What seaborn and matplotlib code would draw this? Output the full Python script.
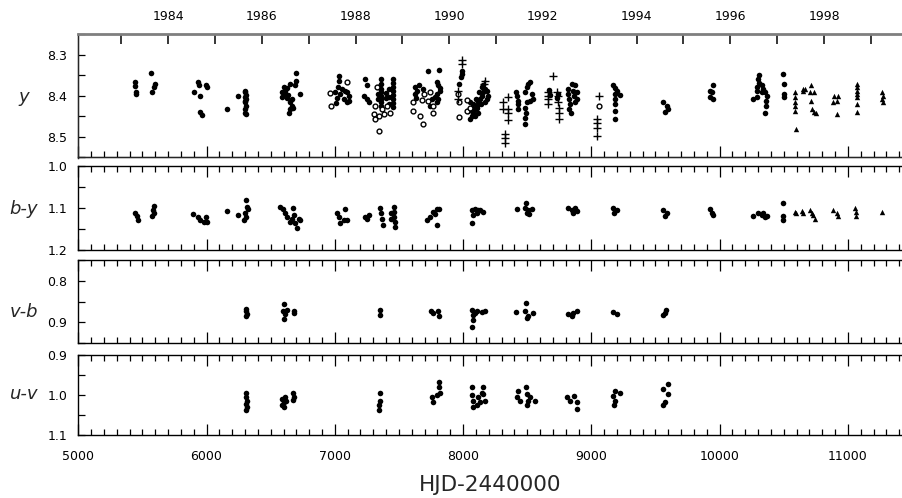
import numpy as np
import pandas as pd
import matplotlib
matplotlib.use("Agg")
import matplotlib.pyplot as plt
from matplotlib.ticker import MultipleLocator
import seaborn as sns

sns.set_style("white")
plt.rcParams["font.family"] = ["DejaVu Sans"]

# ---------------- y magnitude ----------------
y_dot_hjd = [5444, 5444, 5446, 5448, 5567, 5600, 5587, 5574,
             5930, 5938, 5998, 6003, 5904, 5946, 5946, 5964,
             6159, 6249, 6302, 6298, 6305, 6300, 6308, 6302, 6304, 6300, 6302, 6304, 6296,
             6697, 6699, 6691, 6652, 6626, 6600, 6588, 6613, 6588, 6626, 6665, 6730, 6652,
             6665, 6647, 6639, 6673, 6610, 6635,
             7034, 7029, 7021, 7055, 7003, 7042, 7094, 7107, 7016, 7068, 7107, 7011, 7094, 7080,
             7237, 7250, 7224, 7250, 7263,
             7362, 7362, 7362, 7362, 7362, 7362, 7362, 7362, 7338, 7338, 7338,
             7455, 7455, 7455, 7455, 7455, 7455, 7455, 7455, 7424, 7424, 7424, 7400, 7400,
             7723, 7816, 7627, 7640, 7627, 7653, 7691, 7796, 7808, 7821, 7796, 7782, 7756,
             7808, 7796, 7743, 7630, 7820,
             7990, 7990, 7983, 7972,
             8055, 8068, 8081, 8094, 8068, 8107, 8081, 8120, 8102, 8133, 8146, 8128, 8159,
             8172, 8146, 8159, 8185, 8198, 8185, 8172, 8120, 8094, 8042, 8055, 8110, 8140,
             8414, 8419, 8432, 8432, 8432, 8510, 8523, 8497, 8484, 8536, 8549, 8523, 8497,
             8484, 8492, 8484, 8484,
             8679, 8670, 8740, 8735,
             8847, 8874, 8821, 8860, 8886, 8821, 8866, 8829, 8886, 8834, 8829, 8842, 8874,
             9172, 9185, 9203, 9224, 9185, 9185, 9185, 9185, 9185,
             9557, 9588, 9601, 9575,
             9947, 9926, 9939, 9926, 9952,
             10308, 10302, 10308, 10290, 10290, 10328, 10341, 10328, 10354, 10263, 10290,
             10367, 10362, 10362, 10354,
             10497, 10503, 10503, 10503]
y_dot_mag = [8.366, 8.376, 8.391, 8.396, 8.345, 8.371, 8.379, 8.390,
             8.367, 8.374, 8.375, 8.379, 8.392, 8.400, 8.439, 8.447,
             8.433, 8.401, 8.388, 8.392, 8.398, 8.404, 8.408, 8.412, 8.425, 8.433, 8.441, 8.445, 8.415,
             8.344, 8.363, 8.374, 8.371, 8.382, 8.379, 8.392, 8.396, 8.404, 8.406, 8.408, 8.396, 8.416,
             8.425, 8.433, 8.443, 8.429, 8.388, 8.398,
             8.352, 8.363, 8.379, 8.383, 8.392, 8.396, 8.392, 8.401, 8.406, 8.408, 8.412, 8.418, 8.415, 8.388,
             8.359, 8.374, 8.400, 8.408, 8.416,
             8.359, 8.371, 8.383, 8.391, 8.401, 8.408, 8.415, 8.425, 8.379, 8.396, 8.408,
             8.359, 8.369, 8.379, 8.388, 8.398, 8.408, 8.418, 8.428, 8.384, 8.403, 8.420, 8.393, 8.406,
             8.341, 8.337, 8.379, 8.388, 8.396, 8.375, 8.383, 8.367, 8.375, 8.388, 8.396, 8.404, 8.408,
             8.408, 8.416, 8.425, 8.405, 8.380,
             8.339, 8.347, 8.355, 8.371,
             8.457, 8.449, 8.441, 8.433, 8.433, 8.425, 8.420, 8.416, 8.408, 8.408, 8.400, 8.392, 8.392,
             8.383, 8.379, 8.374, 8.388, 8.400, 8.408, 8.416, 8.441, 8.449, 8.437, 8.416, 8.430, 8.420,
             8.392, 8.400, 8.412, 8.420, 8.433, 8.371, 8.367, 8.379, 8.392, 8.396, 8.408, 8.412, 8.416,
             8.429, 8.441, 8.453, 8.469,
             8.397, 8.385, 8.395, 8.405,
             8.371, 8.375, 8.383, 8.388, 8.392, 8.396, 8.400, 8.408, 8.408, 8.420, 8.433, 8.441, 8.416,
             8.374, 8.382, 8.388, 8.397, 8.396, 8.408, 8.420, 8.437, 8.456,
             8.416, 8.425, 8.431, 8.439,
             8.374, 8.388, 8.392, 8.404, 8.408,
             8.349, 8.359, 8.369, 8.379, 8.388, 8.375, 8.383, 8.392, 8.392, 8.408, 8.404,
             8.400, 8.412, 8.425, 8.441,
             8.347, 8.371, 8.396, 8.404]

y_open_hjd = [6964, 6972, 7094, 7328, 7315, 7307, 7315, 7341, 7341, 7367, 7406, 7432, 7380,
              7613, 7613, 7666, 7686, 7679, 7743, 7730, 7769, 7769, 7699,
              7964, 7972, 7972, 8030, 8030, 8055, 9063]
y_open_mag = [8.393, 8.425, 8.366, 8.379, 8.425, 8.445, 8.457, 8.449, 8.486, 8.433, 8.425, 8.441, 8.445,
              8.416, 8.437, 8.449, 8.468, 8.410, 8.392, 8.412, 8.425, 8.441, 8.396,
              8.396, 8.416, 8.452, 8.410, 8.437, 8.429, 8.425]

y_plus_hjd = [7990, 7990, 7964, 7964, 8172, 8160,
              8315, 8310, 8354, 8354, 8354, 8354, 8328, 8328, 8328,
              8699, 8665, 8665, 8665, 8665, 8730, 8738, 8738, 8745, 8745, 8745,
              9063, 9042, 9042, 9042, 9042]
y_plus_mag = [8.314, 8.322, 8.388, 8.408, 8.363, 8.372,
              8.415, 8.433, 8.404, 8.433, 8.441, 8.460, 8.494, 8.502, 8.515,
              8.351, 8.392, 8.400, 8.408, 8.420, 8.392, 8.401, 8.416, 8.429, 8.441, 8.457,
              8.400, 8.457, 8.465, 8.478, 8.497]

y_tri_hjd = [10589, 10589, 10589, 10589, 10589, 10594, 10648, 10648, 10666,
             10713, 10705, 10736, 10713, 10718, 10736, 10752,
             10892, 10926, 10881, 10912, 10918,
             11069, 11069, 11069, 11069, 11069, 11074, 11074,
             11264, 11272, 11264, 11272]
y_tri_mag = [8.392, 8.404, 8.415, 8.425, 8.437, 8.480, 8.383, 8.388, 8.383,
             8.374, 8.392, 8.392, 8.412, 8.433, 8.439, 8.441,
             8.401, 8.400, 8.416, 8.412, 8.445,
             8.371, 8.379, 8.388, 8.396, 8.404, 8.420, 8.439,
             8.392, 8.400, 8.408, 8.416]

# ---------------- b-y colour ----------------
by_dot_hjd = [5444, 5457, 5462, 5587, 5582, 5592, 5574,
              5898, 5930, 5951, 5977, 5998, 6003,
              6159, 6249, 6309, 6315, 6320, 6302, 6309, 6294,
              6574, 6595, 6613, 6631, 6652, 6673, 6678, 6691, 6704, 6717, 6730, 6665,
              7016, 7029, 7037, 7068, 7081, 7094,
              7237, 7250, 7263,
              7354, 7359, 7367, 7374, 7458, 7458, 7463, 7466, 7471, 7437, 7437,
              7717, 7743, 7764, 7796, 7816, 7796, 7780,
              8068, 8094, 8133, 8159, 8081, 8068, 8107, 8120,
              8419, 8492, 8484, 8510, 8536, 8517, 8497,
              8821, 8847, 8874, 8855, 8886,
              9172, 9198, 9177,
              9562, 9588, 9575,
              9926, 9939, 9952,
              10263, 10302, 10328, 10354, 10341, 10367,
              10497, 10497, 10497]
by_dot_mag = [1.111, 1.119, 1.129, 1.095, 1.105, 1.113, 1.119,
              1.114, 1.122, 1.129, 1.133, 1.122, 1.133,
              1.106, 1.117, 1.081, 1.097, 1.103, 1.111, 1.121, 1.129,
              1.097, 1.103, 1.113, 1.121, 1.133, 1.101, 1.117, 1.136, 1.148, 1.127, 1.129, 1.125,
              1.113, 1.121, 1.136, 1.129, 1.103, 1.129,
              1.121, 1.127, 1.117,
              1.101, 1.113, 1.127, 1.140, 1.097, 1.109, 1.121, 1.133, 1.145, 1.113, 1.127,
              1.129, 1.121, 1.109, 1.103, 1.103, 1.140, 1.115,
              1.105, 1.103, 1.105, 1.109, 1.117, 1.136, 1.111, 1.104,
              1.103, 1.087, 1.101, 1.105, 1.103, 1.114, 1.113,
              1.101, 1.105, 1.101, 1.111, 1.106,
              1.101, 1.105, 1.111,
              1.105, 1.111, 1.119,
              1.103, 1.111, 1.117,
              1.119, 1.111, 1.117, 1.122, 1.113, 1.119,
              1.087, 1.119, 1.129]

by_tri_hjd = [10589, 10594, 10640, 10653, 10705, 10718, 10744, 10730,
              10887, 10912, 10926, 11059, 11067, 11067, 11264]
by_tri_mag = [1.109, 1.112, 1.106, 1.111, 1.105, 1.113, 1.125, 1.117,
              1.105, 1.113, 1.119, 1.101, 1.109, 1.119, 1.109]

# ---------------- v-b colour ----------------
vb_hjd = [6309, 6309, 6315, 6309,
          6605, 6595, 6613, 6605, 6631, 6678, 6678,
          7354, 7354,
          7748, 7769, 7808, 7816,
          8068, 8081, 8107, 8146, 8172, 8076, 8068, 8090,
          8414, 8492, 8484, 8510, 8549, 8502,
          8821, 8860, 8886, 8847,
          9172, 9198,
          9583, 9562, 9575]
vb_mag = [0.868, 0.874, 0.880, 0.884,
          0.857, 0.874, 0.880, 0.893, 0.870, 0.872, 0.877,
          0.870, 0.882,
          0.874, 0.878, 0.874, 0.884,
          0.870, 0.882, 0.874, 0.876, 0.874, 0.894, 0.911, 0.878,
          0.876, 0.853, 0.874, 0.884, 0.878, 0.890,
          0.880, 0.878, 0.874, 0.884,
          0.876, 0.880,
          0.870, 0.882, 0.877]

# ---------------- u-v colour ----------------
uv_hjd = [6309, 6309, 6315, 6309, 6315, 6309,
          6588, 6600, 6588, 6613, 6600, 6620,
          6673, 6678, 6673,
          7354, 7349, 7341, 7341,
          7756, 7764, 7816, 7816, 7820, 7796,
          8068, 8068, 8081, 8081, 8120, 8159, 8159, 8172, 8133, 8146, 8107,
          8419, 8445, 8432, 8492, 8497, 8510, 8523, 8562, 8497,
          8808, 8834, 8866, 8886, 8891,
          9185, 9224, 9172, 9185, 9177,
          9601, 9562, 9601, 9575, 9557]
uv_mag = [0.994, 1.006, 1.014, 1.022, 1.030, 1.038,
          1.010, 1.018, 1.026, 1.006, 1.030, 1.014,
          0.994, 1.006, 1.012,
          0.994, 1.014, 1.026, 1.038,
          1.006, 1.018, 0.968, 0.981, 0.994, 1.000,
          0.979, 1.000, 1.014, 1.030, 1.006, 0.981, 0.998, 1.014, 1.018, 0.994, 1.026,
          1.006, 1.014, 0.990, 0.981, 0.998, 1.014, 1.006, 1.016, 1.026,
          1.006, 1.014, 1.002, 1.018, 1.034,
          0.990, 0.994, 1.002, 1.014, 1.026,
          0.973, 0.985, 0.998, 1.018, 1.024]

panel_names = ["y", "b-y", "v-b", "u-v"]
panel_limits = [(8.55, 8.25), (1.2, 1.0), (0.95, 0.75), (1.1, 0.9)]
panel_ticks = [[8.3, 8.4, 8.5], [1.0, 1.1, 1.2], [0.8, 0.9], [0.9, 1.0, 1.1]]
hjd_ticks = [5000, 6000, 7000, 8000, 9000, 10000, 11000]
years = list(range(1983, 2000))

W, H = 903, 498
fig = plt.figure(figsize=(W / 100, H / 100), dpi=100)

# panel boxes in pixels: (top, bottom)
boxes = [(34, 157.5), (166, 250), (260, 343), (355, 435)]
label_y = [96.5, 209, 312, 394]
left_px = 78.3
XLIM = (5000, 11430)
axes = []
for top, bot in boxes:
    ax = fig.add_axes([left_px / W, 1 - bot / H, 1 - left_px / W, (bot - top) / H])
    axes.append(ax)

dot = dict(color="black", marker="o", s=16, linewidth=0, legend=False)
opn = dict(facecolor="white", edgecolor="black", marker="o", s=12, linewidth=1.0, legend=False)
pls = dict(color="black", marker="+", s=26, linewidth=1.0, legend=False)
tri = dict(color="black", marker="^", s=15, linewidth=0, legend=False)

sns.scatterplot(x=y_dot_hjd, y=y_dot_mag, ax=axes[0], **dot)
sns.scatterplot(x=y_open_hjd, y=y_open_mag, ax=axes[0], **opn)
sns.scatterplot(x=y_plus_hjd, y=y_plus_mag, ax=axes[0], **pls)
sns.scatterplot(x=y_tri_hjd, y=y_tri_mag, ax=axes[0], **tri)

sns.scatterplot(x=by_dot_hjd, y=by_dot_mag, ax=axes[1], **dot)
sns.scatterplot(x=by_tri_hjd, y=by_tri_mag, ax=axes[1], **tri)

sns.scatterplot(x=vb_hjd, y=vb_mag, ax=axes[2], **dot)
sns.scatterplot(x=uv_hjd, y=uv_mag, ax=axes[3], **dot)

for i, ax in enumerate(axes):
    ax.set_xlim(*XLIM)
    ax.set_ylim(*panel_limits[i])
    ax.set_yticks(panel_ticks[i])
    ax.set_yticklabels([f"{v:.1f}" for v in panel_ticks[i]])
    ax.yaxis.set_minor_locator(MultipleLocator(0.05))
    ax.set_xticks(hjd_ticks)
    ax.xaxis.set_minor_locator(MultipleLocator(100))
    ax.set_xlabel("")
    ax.set_ylabel("")
    for s in ["left", "bottom", "top"]:
        ax.spines[s].set_color("black")
        ax.spines[s].set_linewidth(1.0)
    ax.spines["right"].set_visible(False)
    ax.tick_params(axis="y", which="both", direction="in", length=5, width=0.9,
                   left=True, right=False, labelsize=9, pad=8, colors="black")
    ax.tick_params(axis="x", which="major", direction="in", length=8, width=0.9,
                   top=(i > 0), bottom=True, labelsize=9, pad=11, colors="black")
    ax.tick_params(axis="x", which="minor", direction="in", length=4.5, width=0.9,
                   top=(i > 0), bottom=True, colors="black")
    if i < 3:
        ax.tick_params(axis="x", labelbottom=False)
    ax.patch.set_alpha(0)
    fig.text(24 / W, 1 - label_y[i] / H, panel_names[i],
             fontsize=13, style="italic", ha="center", va="center")

# calendar years along the top of the y panel (Jan 1 of each year in HJD-2440000)
def year_to_hjd(yr):
    return 11544.5 + (np.asarray(yr, dtype=float) - 2000.0) * 365.25

top_ax = axes[0]
top_ax.spines["top"].set_visible(False)
yr_ax = top_ax.twiny()
yr_ax.set_xlim(*XLIM)
yr_ax.set_xticks(year_to_hjd(years),
                 labels=[str(y) if y % 2 == 0 else "" for y in years])
yr_ax.xaxis.set_minor_locator(plt.NullLocator())
yr_ax.tick_params(axis="x", which="major", direction="in", length=7.5, width=1.1,
                  top=True, bottom=False, labeltop=True, labelbottom=False,
                  labelsize=9, pad=8, colors="black")
yr_ax.spines["top"].set_color("#7f7f7f")
yr_ax.spines["top"].set_linewidth(2.0)

fig.text(490 / W, 1 - 485 / H, "HJD-2440000", fontsize=15.5, ha="center", va="center")

fig.savefig("out.png", dpi=100)
